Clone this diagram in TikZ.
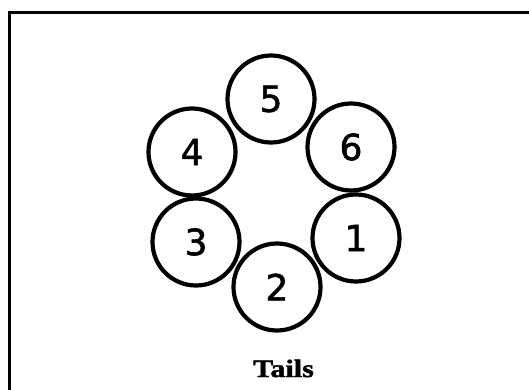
\documentclass[tikz,border=0pt]{standalone}
\usepackage{fontspec}
\setmainfont{Liberation Serif}
\newfontfamily\digitfont[FakeBold=1.6]{DejaVu Sans}
\newfontfamily\capfont[FakeBold=1.5]{Liberation Serif Bold}
\begin{document}
\begin{tikzpicture}[x=1pt,y=-1pt,
  coin/.style={circle,draw=black,line width=4.2pt,minimum size=87pt,inner sep=0pt,
    font=\digitfont\fontsize{36}{36}\selectfont},
  caption/.style={font=\capfont\fontsize{25}{25}\selectfont,xscale=1.2,transform shape,inner sep=0pt}]
\useasboundingbox (0,0) rectangle (529,390);
\clip (0,0) rectangle (529,390);
\fill[white] (0,0) rectangle (529,390);
\draw[line width=3pt] (9.5,400) -- (9.5,13) -- (540,13);
\node[coin] (c5) at (271,99) {5};
\node[coin] (c4) at (192,152) {4};
\node[coin] (c6) at (351,147) {6};
\node[coin] (c3) at (196,242) {3};
\node[coin] (c1) at (356,238) {1};
\node[coin] (c2) at (277,287) {2};
\node[caption,anchor=base] (t) at (283.5,377) {Tails};
\end{tikzpicture}
\end{document}
